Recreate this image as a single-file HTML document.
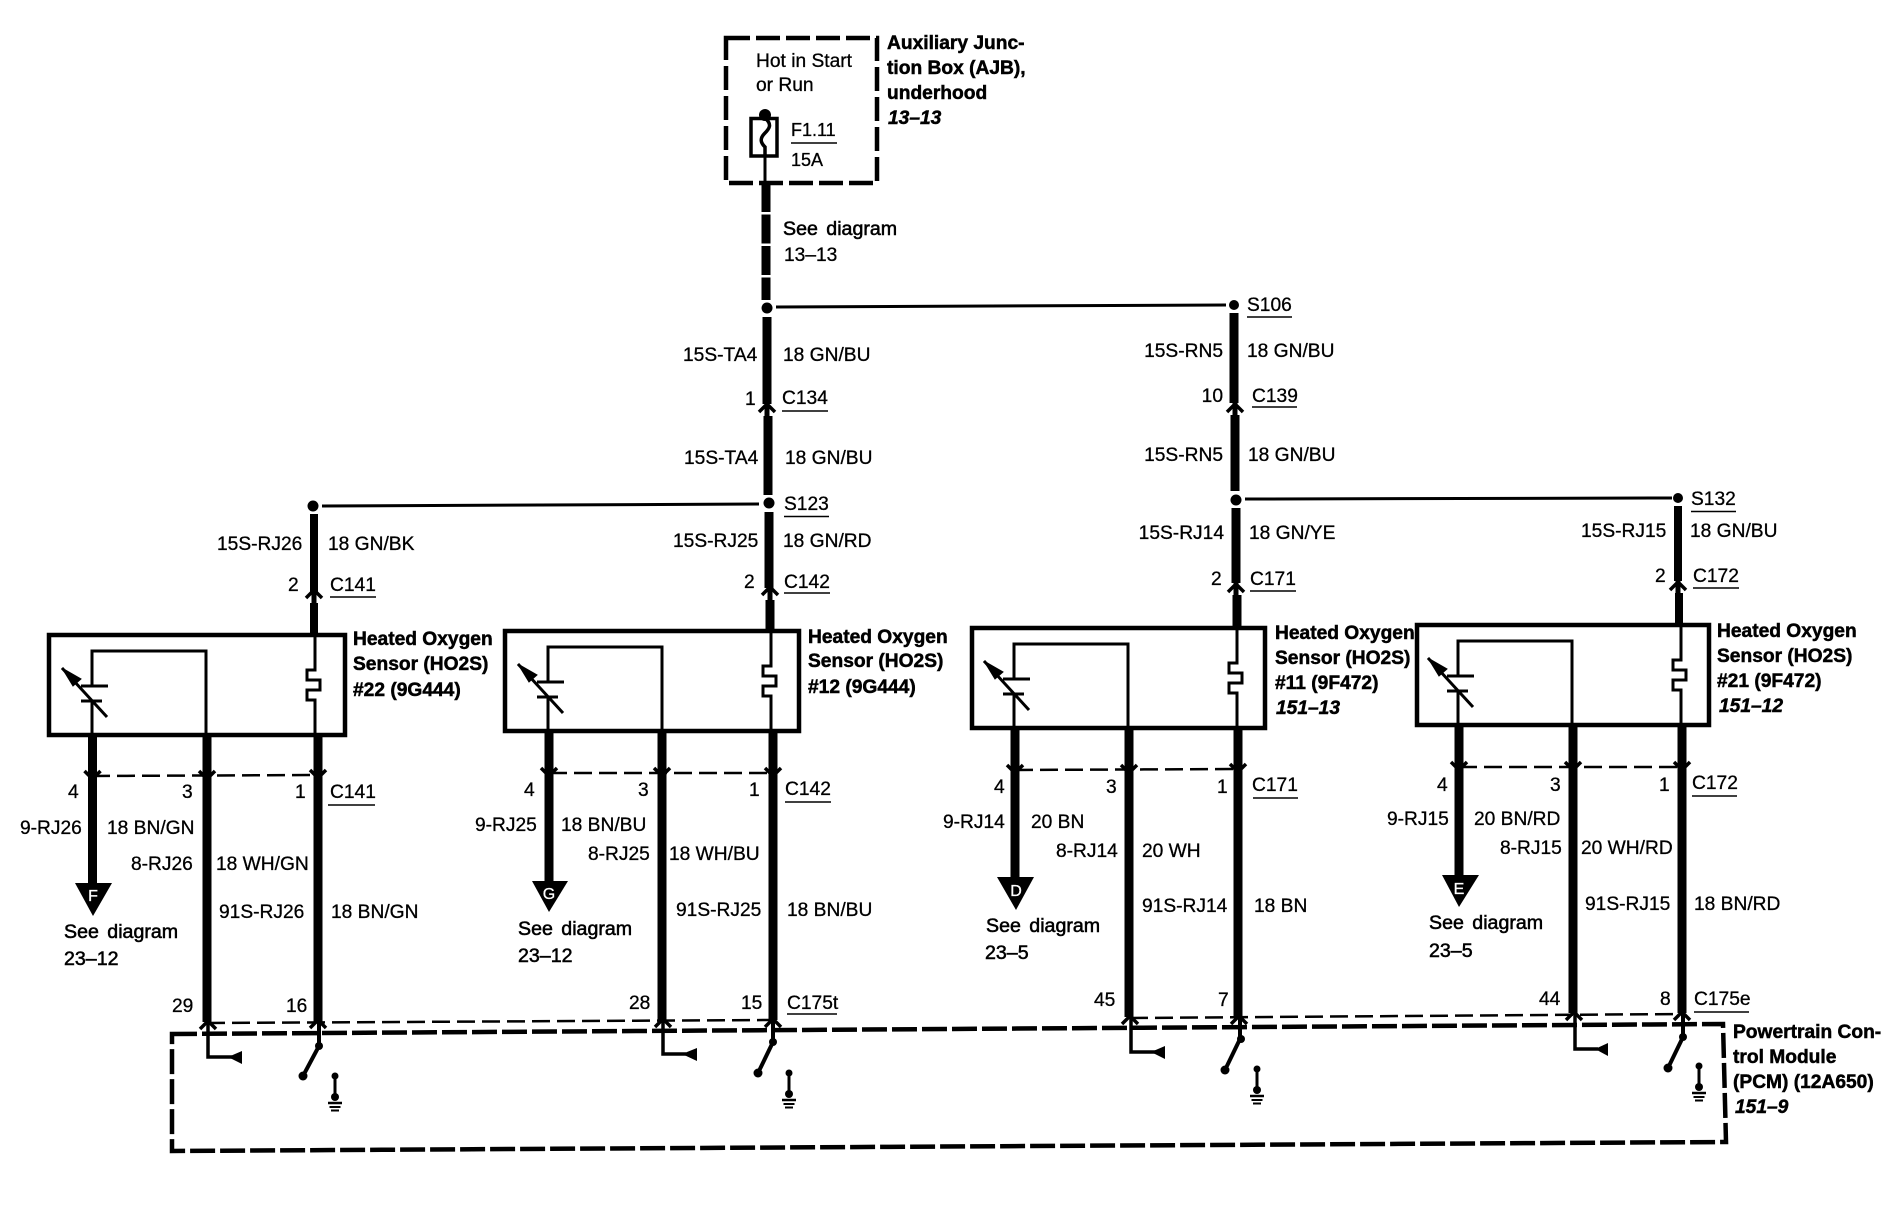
<!DOCTYPE html>
<html><head><meta charset="utf-8"><title>Heated Oxygen Sensor wiring</title>
<style>
html,body{margin:0;padding:0;background:#fff}
svg{display:block}
text{font-family:"Liberation Sans",sans-serif;font-size:19.2px;fill:#000;stroke:#000;stroke-width:.3}
.b{font-weight:bold;stroke-width:.5}
.i{font-weight:bold;font-style:italic;stroke-width:.5}
.e{text-anchor:end}
.s{font-size:19.6px;word-spacing:3px;stroke-width:.55}
.f{font-size:18px}
.w{fill:#fff;stroke:#fff;font-size:16px;text-anchor:middle;stroke-width:.3}
</style></head><body>
<svg width="1890" height="1216" viewBox="0 0 1890 1216" xmlns="http://www.w3.org/2000/svg">
<defs>
<g id="inner" fill="none" stroke="#000">
<path d="M43,101V67M43,52V17H157V101" stroke-width="3"/>
<path d="M32,67H53M32,52H59" stroke-width="3"/>
<path d="M13,34L58,83" stroke-width="3"/>
<path d="M13,34L32,45L24,52Z" fill="#000" stroke-width="1"/>
<path d="M266,0V36H258V46H271V56H258V66H266V101" stroke-width="3"/>
</g>
<path id="up" d="M-8,7L0,-1L8,7" fill="none" stroke="#000" stroke-width="3.5"/>
<path id="dn" d="M-8,-5L0,3L8,-5" fill="none" stroke="#000" stroke-width="3.5"/>
<g id="gnd" stroke="#000" fill="#000">
<circle cx="0" cy="0" r="3.5" stroke="none"/>
<path d="M0,0V21" stroke-width="3"/>
<circle cx="0" cy="21" r="4" stroke="none"/>
<path d="M-7,27H7" stroke-width="2.5"/>
<path d="M-5.5,31H5.5" stroke-width="2"/>
<path d="M-4,34.500H4" stroke-width="2"/>
</g>
</defs>

<!-- AJB box -->
<path d="M726,38H877V183H726Z" fill="none" stroke="#000" stroke-width="4.500" stroke-dasharray="24 6"/>
<circle cx="765" cy="115" r="6"/>
<rect x="751" y="118.500" width="26" height="37.500" fill="none" stroke="#000" stroke-width="3.500"/>
<path d="M765,118C772,124 770,128 765,133C759,139 761,143 765,147V156" fill="none" stroke="#000" stroke-width="3.500"/>
<path d="M765,156V183" stroke="#000" stroke-width="3"/>
<path d="M791,143H837" stroke="#000" stroke-width="1.500"/>
<path d="M766,183V300" stroke="#000" stroke-width="9" stroke-dasharray="29 2.500"/>
<path d="M766,285V300" stroke="#000" stroke-width="9"/>

<text x="756" y="67">Hot in Start</text>
<text x="756" y="91">or Run</text>
<text class="f" x="791" y="136">F1.11</text>
<text class="f" x="791" y="166">15A</text>
<text class="b" x="887" y="49">Auxiliary Junc-</text>
<text class="b" x="887" y="74">tion Box (AJB),</text>
<text class="b" x="887" y="99">underhood</text>
<text class="i" x="888" y="124">13–13</text>
<text class="s" x="783" y="235">See diagram</text>
<text x="784" y="261">13–13</text>

<!-- top wiring -->
<circle cx="767" cy="308" r="5.500"/>
<path d="M776,307L1226,305" stroke="#000" stroke-width="3"/>
<circle cx="1234" cy="305" r="5"/>
<path d="M767,317V404" stroke="#000" stroke-width="9"/>
<path d="M767,404V416" stroke="#000" stroke-width="5"/>
<use href="#up" x="767" y="405"/>
<path d="M768,416V495" stroke="#000" stroke-width="9"/>
<circle cx="769" cy="503" r="5.500"/>
<path d="M759,504L322,506" stroke="#000" stroke-width="3"/>
<circle cx="313" cy="506" r="5.500"/>
<path d="M769,512V588" stroke="#000" stroke-width="9"/>
<path d="M770,588V601" stroke="#000" stroke-width="5"/>
<use href="#up" x="770" y="588"/>
<path d="M770,600V630" stroke="#000" stroke-width="9"/>

<path d="M314,514V592" stroke="#000" stroke-width="8"/>
<path d="M314,592V604" stroke="#000" stroke-width="5"/>
<use href="#up" x="314" y="591"/>
<path d="M314,603V634" stroke="#000" stroke-width="8"/>

<path d="M1234,313V403" stroke="#000" stroke-width="9"/>
<path d="M1235,403V416" stroke="#000" stroke-width="5"/>
<use href="#up" x="1235" y="405"/>
<path d="M1235,415V491" stroke="#000" stroke-width="9"/>
<circle cx="1236" cy="500" r="5.500"/>
<path d="M1245,499L1672,498" stroke="#000" stroke-width="3"/>
<circle cx="1678" cy="498" r="5"/>
<path d="M1236,508V583" stroke="#000" stroke-width="9"/>
<path d="M1236,583V596" stroke="#000" stroke-width="5"/>
<use href="#up" x="1236" y="585"/>
<path d="M1237,595V627" stroke="#000" stroke-width="9"/>
<path d="M1678,506V581" stroke="#000" stroke-width="8"/>
<path d="M1678,581V594" stroke="#000" stroke-width="5"/>
<use href="#up" x="1678" y="583"/>
<path d="M1679,593V624" stroke="#000" stroke-width="8"/>

<!-- sensor boxes -->
<rect x="49" y="635" width="296" height="100" fill="none" stroke="#000" stroke-width="4.500"/>
<use href="#inner" transform="translate(49,634)"/>
<rect x="505" y="631" width="294" height="100" fill="none" stroke="#000" stroke-width="4.500"/>
<use href="#inner" transform="translate(505,630)"/>
<rect x="972" y="628" width="293" height="100" fill="none" stroke="#000" stroke-width="4.500"/>
<use href="#inner" transform="translate(971,627)"/>
<rect x="1417" y="625" width="292" height="100" fill="none" stroke="#000" stroke-width="4.500"/>
<use href="#inner" transform="translate(1415,624)"/>

<!-- lower wires -->
<g stroke="#000" fill="none">
<path d="M92.500,735V885M207,735V1022M318,735V1022" stroke-width="9"/>
<path d="M92,776L318,775" stroke-width="2.500" stroke-dasharray="18 7"/>
<path d="M549,731V885M662,731V1020M773,731V1020" stroke-width="9"/>
<path d="M549,773H771" stroke-width="2.500" stroke-dasharray="18 7"/>
<path d="M1015,728V880M1129,728V1017M1238,728V1017" stroke-width="9"/>
<path d="M1015,770L1238,769" stroke-width="2.500" stroke-dasharray="18 7"/>
<path d="M1459,725V878M1573,725V1013M1682,725V1013" stroke-width="9"/>
<path d="M1459,767H1681" stroke-width="2.500" stroke-dasharray="18 7"/>
<path d="M207,1023L773,1020" stroke-width="2.500" stroke-dasharray="18 7"/>
<path d="M1130,1018L1682,1014" stroke-width="2.500" stroke-dasharray="18 7"/>
<!-- PCM -->
<path d="M172,1034L1723,1024L1726,1142L172,1151Z" stroke-width="4.500" stroke-dasharray="25 5"/>
</g>
<use href="#dn" x="92.500" y="776"/><use href="#dn" x="207" y="776"/><use href="#dn" x="318" y="775"/>
<use href="#dn" x="549" y="773"/><use href="#dn" x="662" y="773"/><use href="#dn" x="773" y="773"/>
<use href="#dn" x="1015" y="770"/><use href="#dn" x="1129" y="770"/><use href="#dn" x="1238" y="769"/>
<use href="#dn" x="1459" y="767"/><use href="#dn" x="1573" y="767"/><use href="#dn" x="1682" y="767"/>
<use href="#up" x="208" y="1022"/><use href="#up" x="318" y="1021"/>
<use href="#up" x="663" y="1020"/><use href="#up" x="773" y="1020"/>
<use href="#up" x="1130" y="1017"/><use href="#up" x="1239" y="1017"/>
<use href="#up" x="1574" y="1013"/><use href="#up" x="1682" y="1013"/>

<!-- off-page arrows -->
<polygon points="75,883 112,883 93,916"/>
<polygon points="532,881 568,881 549,912"/>
<polygon points="997,877 1034,877 1016,910"/>
<polygon points="1442,875 1479,875 1459,907"/>
<text class="w" x="93" y="901">F</text>
<text class="w" x="549" y="899">G</text>
<text class="w" x="1016" y="896">D</text>
<text class="w" x="1459" y="894">E</text>

<!-- PCM internals -->
<g fill="none" stroke="#000">
<path d="M208,1023V1057H232M663,1021V1054H686M1131,1018V1052H1156M1575,1014V1049H1598" stroke-width="3.500"/>
<path d="M319,1023V1046L303,1076M773,1021V1042L758,1073M1240,1018V1039L1225,1070M1683,1014V1037L1668,1068" stroke-width="4"/>
</g>
<polygon points="228,1057 242,1051 242,1064"/>
<polygon points="682,1054 697,1048 697,1061"/>
<polygon points="1151,1052 1165,1046 1165,1059"/>
<polygon points="1595,1049 1608,1043 1608,1056"/>
<circle cx="319" cy="1046" r="4"/><circle cx="303" cy="1076" r="4.500"/>
<circle cx="773" cy="1042" r="4"/><circle cx="758" cy="1073" r="4.500"/>
<circle cx="1241" cy="1039" r="4"/><circle cx="1225" cy="1070" r="4.500"/>
<circle cx="1683" cy="1037" r="4"/><circle cx="1668" cy="1068" r="4.500"/>
<use href="#gnd" x="335" y="1076"/>
<use href="#gnd" x="789" y="1073"/>
<use href="#gnd" x="1257" y="1069"/>
<use href="#gnd" x="1699" y="1066"/>

<!-- underlines -->
<g stroke="#000" stroke-width="1.500">
<path d="M330,597H376M328,805H375"/>
<path d="M782,411H828M784,516.500H829M784,593H830M785,802H831M787,1014H837"/>
<path d="M1247,317H1292M1252,407H1297M1250,591H1296M1253,798H1298"/>
<path d="M1691,511.500H1736M1693,588H1739M1692,796H1737M1694,1012H1749"/>
</g>

<!-- column 1 labels -->
<text x="217" y="550">15S-RJ26</text>
<text x="328" y="550">18 GN/BK</text>
<text x="288" y="591">2</text>
<text x="330" y="591">C141</text>
<text class="b" x="353" y="645">Heated Oxygen</text>
<text class="b" x="353" y="670">Sensor (HO2S)</text>
<text class="b" x="353" y="696">#22 (9G444)</text>
<text x="68" y="798">4</text>
<text x="182" y="798">3</text>
<text x="295" y="798">1</text>
<text x="330" y="798">C141</text>
<text x="20" y="834">9-RJ26</text>
<text x="107" y="834">18 BN/GN</text>
<text x="131" y="870">8-RJ26</text>
<text x="216" y="870">18 WH/GN</text>
<text x="219" y="918">91S-RJ26</text>
<text x="331" y="918">18 BN/GN</text>
<text class="s" x="64" y="938">See diagram</text>
<text class="s" x="64" y="965">23–12</text>
<text x="172" y="1012">29</text>
<text x="286" y="1012">16</text>

<!-- column 2 labels -->
<text x="683" y="361">15S-TA4</text>
<text x="783" y="361">18 GN/BU</text>
<text x="745" y="405">1</text>
<text x="782" y="404">C134</text>
<text x="684" y="464">15S-TA4</text>
<text x="785" y="464">18 GN/BU</text>
<text x="784" y="510">S123</text>
<text x="673" y="547">15S-RJ25</text>
<text x="783" y="547">18 GN/RD</text>
<text x="744" y="588">2</text>
<text x="784" y="588">C142</text>
<text class="b" x="808" y="643">Heated Oxygen</text>
<text class="b" x="808" y="667">Sensor (HO2S)</text>
<text class="b" x="808" y="693">#12 (9G444)</text>
<text x="524" y="796">4</text>
<text x="638" y="796">3</text>
<text x="749" y="796">1</text>
<text x="785" y="795">C142</text>
<text x="475" y="831">9-RJ25</text>
<text x="561" y="831">18 BN/BU</text>
<text x="588" y="860">8-RJ25</text>
<text x="669" y="860">18 WH/BU</text>
<text x="676" y="916">91S-RJ25</text>
<text x="787" y="916">18 BN/BU</text>
<text class="s" x="518" y="935">See diagram</text>
<text class="s" x="518" y="962">23–12</text>
<text x="629" y="1009">28</text>
<text x="741" y="1009">15</text>
<text x="787" y="1009">C175t</text>

<!-- column 3 labels -->
<text x="1247" y="311">S106</text>
<text class="e" x="1223" y="357">15S-RN5</text>
<text x="1247" y="357">18 GN/BU</text>
<text class="e" x="1223" y="402">10</text>
<text x="1252" y="402">C139</text>
<text class="e" x="1223" y="461">15S-RN5</text>
<text x="1248" y="461">18 GN/BU</text>
<text class="e" x="1224" y="539">15S-RJ14</text>
<text x="1249" y="539">18 GN/YE</text>
<text x="1211" y="585">2</text>
<text x="1250" y="585">C171</text>
<text class="b" x="1275" y="639">Heated Oxygen</text>
<text class="b" x="1275" y="664">Sensor (HO2S)</text>
<text class="b" x="1275" y="689">#11 (9F472)</text>
<text class="i" x="1276" y="714">151–13</text>
<text x="994" y="793">4</text>
<text x="1106" y="793">3</text>
<text x="1217" y="793">1</text>
<text x="1252" y="791">C171</text>
<text x="943" y="828">9-RJ14</text>
<text x="1031" y="828">20 BN</text>
<text x="1056" y="857">8-RJ14</text>
<text x="1142" y="857">20 WH</text>
<text x="1142" y="912">91S-RJ14</text>
<text x="1254" y="912">18 BN</text>
<text class="s" x="986" y="932">See diagram</text>
<text class="s" x="985" y="959">23–5</text>
<text x="1094" y="1006">45</text>
<text x="1218" y="1006">7</text>

<!-- column 4 labels -->
<text x="1691" y="505">S132</text>
<text x="1581" y="537">15S-RJ15</text>
<text x="1690" y="537">18 GN/BU</text>
<text x="1655" y="582">2</text>
<text x="1693" y="582">C172</text>
<text class="b" x="1717" y="637">Heated Oxygen</text>
<text class="b" x="1717" y="662">Sensor (HO2S)</text>
<text class="b" x="1717" y="687">#21 (9F472)</text>
<text class="i" x="1719" y="712">151–12</text>
<text x="1437" y="791">4</text>
<text x="1550" y="791">3</text>
<text x="1659" y="791">1</text>
<text x="1692" y="789">C172</text>
<text x="1387" y="825">9-RJ15</text>
<text x="1474" y="825">20 BN/RD</text>
<text x="1500" y="854">8-RJ15</text>
<text x="1581" y="854">20 WH/RD</text>
<text x="1585" y="910">91S-RJ15</text>
<text x="1694" y="910">18 BN/RD</text>
<text class="s" x="1429" y="929">See diagram</text>
<text class="s" x="1429" y="957">23–5</text>
<text x="1539" y="1005">44</text>
<text x="1660" y="1005">8</text>
<text x="1694" y="1005">C175e</text>

<text class="b" x="1733" y="1038">Powertrain Con-</text>
<text class="b" x="1733" y="1063">trol Module</text>
<text class="b" x="1733" y="1088">(PCM) (12A650)</text>
<text class="i" x="1735" y="1113">151–9</text>
</svg>
</body></html>
